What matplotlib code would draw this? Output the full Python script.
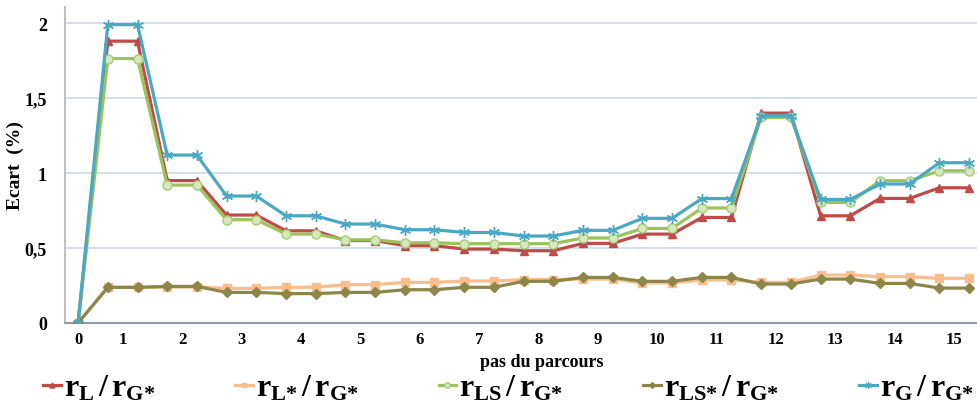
import matplotlib
matplotlib.use("Agg")
import matplotlib.pyplot as plt
import numpy as np

# ---- data ----
steps = list(range(0, 16))                     # tick labels "pas du parcours"
r_L   = [0, 1.88, 1.88, 0.95, 0.95, 0.72, 0.72, 0.615, 0.615, 0.55, 0.55,
         0.516, 0.516, 0.493, 0.493, 0.482, 0.482, 0.531, 0.531, 0.593, 0.593,
         0.704, 0.704, 1.40, 1.40, 0.715, 0.715, 0.831, 0.831, 0.902, 0.902]
r_Ls  = [0, 0.238, 0.238, 0.24, 0.24, 0.231, 0.231, 0.238, 0.238, 0.256, 0.256,
         0.271, 0.271, 0.28, 0.28, 0.29, 0.29, 0.293, 0.293, 0.267, 0.267,
         0.287, 0.287, 0.271, 0.271, 0.32, 0.32, 0.309, 0.309, 0.298, 0.298]
r_LS  = [0, 1.764, 1.764, 0.92, 0.92, 0.689, 0.689, 0.593, 0.593, 0.555, 0.555,
         0.535, 0.535, 0.529, 0.529, 0.529, 0.529, 0.567, 0.567, 0.631, 0.631,
         0.767, 0.767, 1.371, 1.371, 0.804, 0.804, 0.949, 0.949, 1.015, 1.015]
r_LSs = [0, 0.238, 0.238, 0.244, 0.244, 0.204, 0.204, 0.196, 0.196, 0.204, 0.204,
         0.222, 0.222, 0.238, 0.238, 0.278, 0.278, 0.304, 0.304, 0.278, 0.278,
         0.304, 0.304, 0.26, 0.26, 0.293, 0.293, 0.264, 0.264, 0.233, 0.233]
r_G   = [0, 1.99, 1.99, 1.12, 1.12, 0.847, 0.847, 0.715, 0.715, 0.66, 0.66,
         0.622, 0.622, 0.604, 0.604, 0.58, 0.58, 0.618, 0.618, 0.698, 0.698,
         0.83, 0.83, 1.382, 1.382, 0.824, 0.824, 0.927, 0.927, 1.069, 1.069]
yticks = [0, 0.5, 1, 1.5, 2]
ytick_labels = ["0", "0,5", "1", "1,5", "2"]

labels = [r"$r_{L}\,/\,r_{G{*}}$", r"$r_{L{*}}\,/\,r_{G{*}}$", r"$r_{LS}\,/\,r_{G{*}}$",
          r"$r_{LS{*}}\,/\,r_{G{*}}$", r"$r_{G}\,/\,r_{G{*}}$"]

plt.rcParams['font.family'] = ['Liberation Serif', 'DejaVu Serif']
plt.rcParams['mathtext.fontset'] = 'custom'
plt.rcParams['mathtext.rm'] = 'Liberation Serif:bold'
plt.rcParams['mathtext.it'] = 'Liberation Serif:bold'
plt.rcParams['mathtext.bf'] = 'Liberation Serif:bold'

fig = plt.figure(figsize=(9.78, 4.14), dpi=100)
ax = fig.add_axes([0.0665, 0.2174, 0.9335, 0.763])

x = np.arange(len(r_L))
lw = 2.3
h1, = ax.plot(x, r_L, color='#BE4B48', lw=lw, marker='^', ms=6, mfc='#BE4B48', mec='#BE4B48', zorder=4)
h2, = ax.plot(x, r_Ls, color='#F9BD8E', lw=lw, marker='s', ms=6, mfc='#F9BD8E', mec='#F9BD8E', zorder=3)
h3, = ax.plot(x, r_LS, color='#9BC35A', lw=lw, marker='o', ms=6.5, mfc='#D7E8BD', mec='#A9CC78', zorder=4)
h4, = ax.plot(x, r_LSs, color='#8C8748', lw=lw, marker='D', ms=5, mfc='#8C8748', mec='#8C8748', zorder=4)
h5, = ax.plot(x, r_G, color='#4BA8C3', lw=lw, marker=(6, 2, 0), ms=8, mec='#4BA8C3', mew=1, zorder=5)

ax.set_xlim(-0.44, 30.3)
ax.set_ylim(0, 2.107)
tick_pos = [0] + [2 * k - 0.5 for k in steps[1:]]
ax.set_xticks(tick_pos)
ax.set_xticklabels([str(s) for s in steps], fontsize=12, fontweight='bold')
ax.set_yticks(yticks)
ax.set_yticklabels(ytick_labels, fontsize=13, fontweight='bold')
ax.tick_params(axis='both', length=0)
ax.tick_params(axis='y', pad=13)
ax.tick_params(axis='x', pad=6)
ax.grid(axis='y', color='#C9DAEA', lw=1.2)
ax.set_axisbelow(True)
for s in ['top', 'right']:
    ax.spines[s].set_visible(False)
ax.spines['left'].set_color('#BFBFBF')
ax.spines['left'].set_linewidth(1.5)
ax.spines['bottom'].set_color('#8E9BB5')
ax.spines['bottom'].set_linewidth(1.5)

axw = 0.9335 * 978
axh = 0.763 * 414
ax.set_ylabel("Ecart  (%)", fontsize=14, fontweight='bold')
ax.yaxis.set_label_coords(-(65 - 24) / axw, 0.5)
ax.set_xlabel("pas du parcours", fontsize=13, fontweight='bold')
ax.xaxis.set_label_coords((542 - 65) / axw, -(354 - 324) / axh)

fig.legend([h1, h2, h3, h4, h5], labels, loc='center', bbox_to_anchor=(0.52, 0.06),
           ncol=5, frameon=False, fontsize=23, handlelength=0.55, handletextpad=0.1,
           columnspacing=2.5, markerscale=0.6)

fig.savefig("out.png", dpi=100)
